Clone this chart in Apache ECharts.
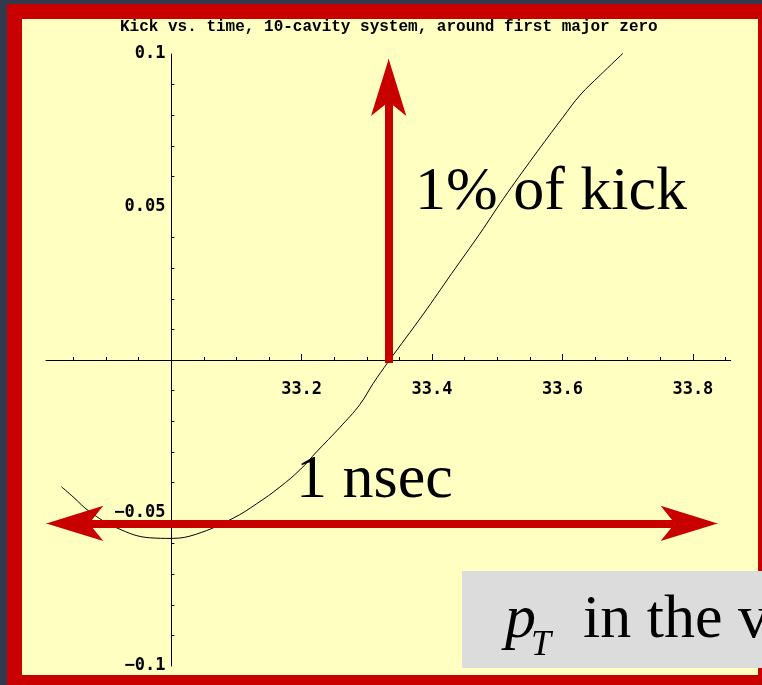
<!DOCTYPE html>
<html>
<head>
    <meta charset="utf-8">
    <title>Kick vs. time</title>
    <script src="https://cdn.jsdelivr.net/npm/echarts@6/dist/echarts.min.js"></script>
    <style>
        html, body { margin: 0; padding: 0; background: #343a4d; }
        #frame { position: absolute; left: 7px; top: 4px; width: 755px; height: 681px; background: #c80000; }
        #paper { position: absolute; left: 22px; top: 19px; width: 736px; height: 656px; background: #ffffc2; }
        #main { position: absolute; left: 0; top: 0; width: 762px; height: 685px; }
    </style>
</head>
<body>
    <div id="frame"></div>
    <div id="paper"></div>
    <div id="main"></div>
    <script type="text/javascript">
        // curve: time (nsec) and kick
        var kickT = [32.8316, 32.8494, 32.8751, 32.917, 32.9672, 33.0005, 33.0388, 33.0950, 33.1309,
                     33.1667, 33.1974, 33.2230, 33.2588, 33.2895, 33.3099, 33.3329, 33.3866, 33.4302,
                     33.4737, 33.5094, 33.5555, 33.6006, 33.6272, 33.6579, 33.6927];
        var kickV = [-0.0414, -0.0447, -0.0496, -0.0549, -0.0581, -0.0583, -0.0569, -0.0517, -0.0470,
                     -0.0415, -0.0359, -0.0300, -0.0220, -0.0145, -0.0076, -0.0006, 0.0150, 0.0283,
                     0.0414, 0.0527, 0.0664, 0.0793, 0.0866, 0.0931, 0.1002];

        // axis ticks
        var xLabels = [33.2, 33.4, 33.6, 33.8];
        var xMinor = [32.85, 32.9, 32.95, 33.05, 33.1, 33.15, 33.25, 33.3, 33.35, 33.45, 33.5, 33.55,
                      33.65, 33.7, 33.75, 33.85];
        var yLabels = [-0.1, -0.05, 0.05, 0.1];
        var yMinor = [-0.09, -0.08, -0.07, -0.06, -0.04, -0.03, -0.02, -0.01,
                      0.01, 0.02, 0.03, 0.04, 0.06, 0.07, 0.08, 0.09];

        // red arrows: shaft start, head base (notch), tip
        var upX = 33.3335;
        var upY = [-0.001, 0.0844, 0.0984];
        var spanY = -0.0534;
        var spanX = [32.8085, 32.8742, 33.7723, 33.8379];

        var curve = [];
        for (var i = 0; i < kickT.length; i++) {
            curve.push([kickT[i], kickV[i]]);
        }

        var tickFont = { fontFamily: 'DejaVu Sans Mono', fontWeight: 'bold', fontSize: 17, color: '#000' };
        var serif = '"Liberation Serif", "Times New Roman", serif';
        var head = { width: 0.5 };

        var myChart = echarts.init(document.getElementById('main'));

        // axes cross at x = 33.0 and y = 0 (pixel offsets from the grid edges)
        var xAxisShift = -306;
        var yAxisShift = -125.4;

        var option = {
            animation: false,
            backgroundColor: 'transparent',
            title: {
                text: 'Kick vs. time, 10-cavity system, around first major zero',
                left: 120,
                top: 19,
                padding: 0,
                textStyle: { fontFamily: 'Liberation Mono', fontWeight: 'bold', fontSize: 16, color: '#000' }
            },
            grid: { left: 46, right: 31.3, top: 54, bottom: 19, containLabel: false, outerBoundsMode: 'none' },
            xAxis: [
                {
                    type: 'value',
                    min: 32.808,
                    max: 33.858,
                    position: 'bottom',
                    offset: xAxisShift,
                    axisLine: { onZero: false, lineStyle: { color: '#000', width: 1 } },
                    axisTick: { inside: true, length: 6, customValues: xLabels, lineStyle: { color: '#000' } },
                    axisLabel: Object.assign({
                        customValues: xLabels,
                        margin: 21,
                        formatter: function (v) { return v.toFixed(1); }
                    }, tickFont),
                    splitLine: { show: false }
                },
                {
                    type: 'value',
                    min: 32.808,
                    max: 33.858,
                    position: 'bottom',
                    offset: xAxisShift,
                    axisLine: { show: false, onZero: false },
                    axisTick: { inside: true, length: 3, customValues: xMinor, lineStyle: { color: '#000' } },
                    axisLabel: { show: false },
                    splitLine: { show: false }
                }
            ],
            yAxis: {
                type: 'value',
                min: -0.1,
                max: 0.1,
                position: 'left',
                offset: yAxisShift,
                axisLine: { show: true, onZero: false, lineStyle: { color: '#000', width: 1 } },
                axisTick: { show: true, inside: true, length: 3, customValues: yMinor, lineStyle: { color: '#000' } },
                axisLabel: Object.assign({
                    customValues: yLabels,
                    margin: 6,
                    formatter: function (v) {
                        var s = String(Math.abs(v));
                        return v < 0 ? '\u2212' + s : s;
                    }
                }, tickFont),
                splitLine: { show: false }
            },
            series: [
                {
                    name: 'kick',
                    type: 'line',
                    data: curve,
                    smooth: 0.4,
                    showSymbol: false,
                    clip: false,
                    silent: true,
                    lineStyle: { color: '#000', width: 1 },
                    markLine: {
                        silent: true,
                        animation: false,
                        symbol: 'none',
                        symbolSize: [26.5, 57],
                        label: { show: false },
                        lineStyle: { color: '#c80000', width: 8, type: 'solid' },
                        emphasis: { disabled: true },
                        data: [
                            // vertical shaft + head
                            [{ coord: [upX, upY[0]] }, { coord: [upX, upY[1]] }],
                            [{ coord: [upX, upY[1]], lineStyle: head }, { coord: [upX, upY[2]], symbol: 'arrow' }],
                            // horizontal shaft + two heads
                            [{ coord: [spanX[1], spanY] }, { coord: [spanX[2], spanY] }],
                            [{ coord: [spanX[1], spanY], lineStyle: head }, { coord: [spanX[0], spanY], symbol: 'arrow' }],
                            [{ coord: [spanX[2], spanY], lineStyle: head }, { coord: [spanX[3], spanY], symbol: 'arrow' }]
                        ]
                    }
                }
            ],
            graphic: [
                {
                    type: 'text', x: 415, y: 193, silent: true,
                    style: { text: '1% of kick', font: '62px ' + serif, fill: '#000', align: 'left', verticalAlign: 'middle' }
                },
                {
                    type: 'text', x: 296, y: 481, silent: true,
                    style: { text: '1 nsec', font: '62px ' + serif, fill: '#000', align: 'left', verticalAlign: 'middle' }
                },
                {
                    type: 'rect', silent: true,
                    shape: { x: 462, y: 571, width: 300, height: 97 },
                    style: { fill: '#dcdcdc' }
                },
                {
                    type: 'text', x: 505, y: 621, silent: true,
                    style: { text: 'p', font: 'italic 62px ' + serif, fill: '#000', align: 'left', verticalAlign: 'middle' }
                },
                {
                    type: 'text', x: 531, y: 646, silent: true,
                    style: { text: 'T', font: 'italic 36px ' + serif, fill: '#000', align: 'left', verticalAlign: 'middle' }
                },
                {
                    type: 'text', x: 583, y: 621, silent: true,
                    style: { text: 'in the v', font: '62px ' + serif, fill: '#000', align: 'left', verticalAlign: 'middle' }
                }
            ]
        };

        myChart.setOption(option);
        window.onresize = myChart.resize;
    </script>
</body>
</html>
